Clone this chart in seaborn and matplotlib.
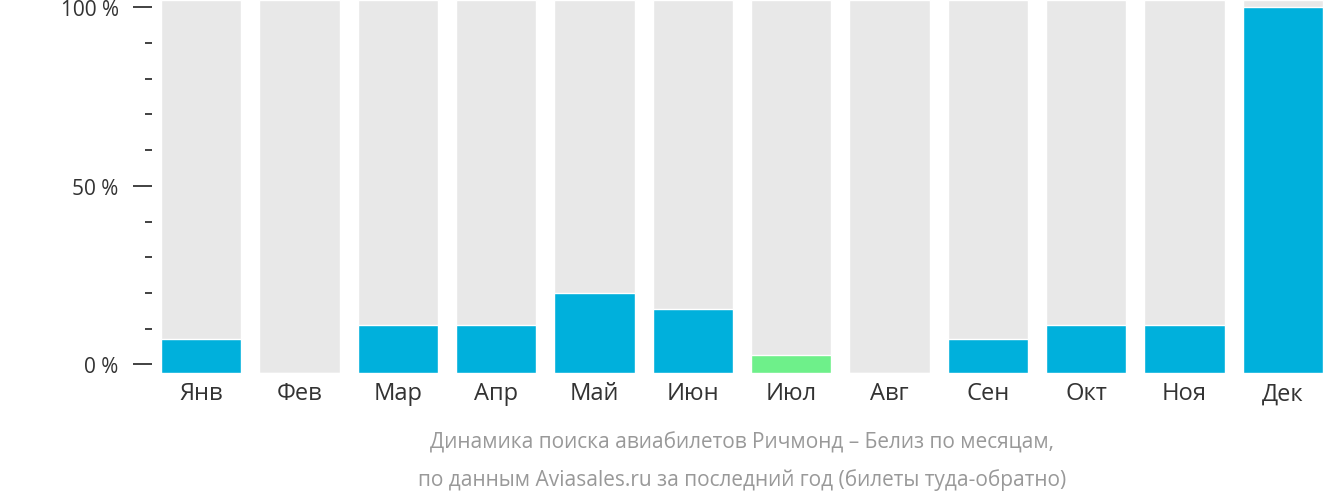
import matplotlib
matplotlib.use("Agg")
import matplotlib.pyplot as plt
from matplotlib.ticker import MultipleLocator
import pandas as pd
import seaborn as sns

months = ["Янв", "Фев", "Мар", "Апр", "Май", "Июн", "Июл", "Авг", "Сен", "Окт", "Ноя", "Дек"]
values = [7, 0, 11, 11, 20, 15.6, 2.5, 0, 7, 11, 11, 100]
highlight = "Июл"

BASE = -2.4
TOP = 102

plt.rcParams["font.family"] = "Open Sans"
sns.set_theme(style="white", font="Open Sans")

df = pd.DataFrame({"month": months, "value": values})
df["bg"] = TOP - BASE
df["h"] = df["value"] - BASE
df.loc[df["value"] == 0, "h"] = 0
colors = ["#6ef08a" if m == highlight else "#00b0dc" for m in months]

fig = plt.figure(figsize=(13.32, 5.02), dpi=100)
ax = fig.add_axes([152 / 1332, 1 - 374 / 502, 1180 / 1332, 374 / 502])

sns.barplot(data=df, x="month", y="bg", bottom=BASE, color="#e8e8e8", width=0.82, ax=ax, saturation=1)
sns.barplot(data=df, x="month", y="h", bottom=BASE, hue="month", palette=colors, width=0.82,
            ax=ax, saturation=1, legend=False)

ax.set_ylim(BASE, 100 + (100 - BASE) * 0.0 + 2.3)
ax.set_xlim(-0.5, 11.5)
ax.yaxis.set_major_locator(MultipleLocator(50))
ax.yaxis.set_minor_locator(MultipleLocator(10))
ax.set_yticks([0, 50, 100])
ax.set_yticklabels(["0 %", "50 %", "100 %"], fontsize=15, color="#333333")
ax.tick_params(axis="y", which="major", length=14, width=1.3, color="#333333", left=True, pad=10)
ax.tick_params(axis="y", which="minor", length=5, width=1.3, color="#333333", left=True)
ax.tick_params(axis="x", length=0, labelsize=17, colors="#333333", pad=6)
for s in ax.spines.values():
    s.set_visible(False)
ax.set_xlabel("")
ax.set_ylabel("")

fig.text(742 / 1332, 1 - 443 / 502, "Динамика поиска авиабилетов Ричмонд – Белиз по месяцам,",
         ha="center", va="center", fontsize=15, color="#999999")
fig.text(742 / 1332, 1 - 480 / 502, "по данным Aviasales.ru за последний год (билеты туда-обратно)",
         ha="center", va="center", fontsize=15, color="#999999")

fig.savefig("out.png", dpi=100)
